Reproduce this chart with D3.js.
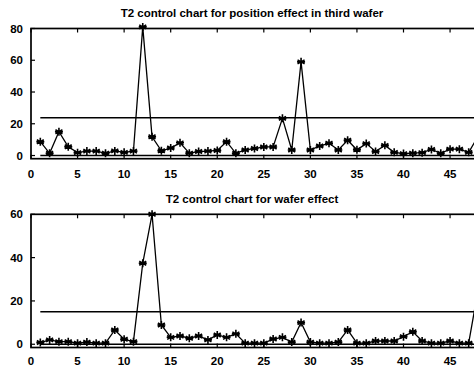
<!DOCTYPE html>
<html><head><meta charset="utf-8">
<script src="https://cdn.jsdelivr.net/npm/d3@7"></script>
<style>body{margin:0;background:#fff}svg{display:block}text{font-family:"Liberation Sans",Arial,sans-serif;font-weight:bold;fill:#000}</style>
</head><body><svg id="c" width="474" height="368"></svg>
<script>
const samples = d3.range(1, 49);
const title1 = "T2 control chart for position effect in third wafer";
const title2 = "T2 control chart for wafer effect";
const positionT2 = [8.7,1.4,15,5.5,1.8,2.8,2.8,1.4,2.9,2,2.8,81,11.8,3,4.7,8,1.5,2.5,2.8,3.2,8.7,1.4,3.5,4.4,5.4,5.4,23.4,3.5,59,3.5,6,7.7,3.5,9.6,3.6,7.5,2.5,6.4,2,1.2,1.5,1.8,3.8,1.4,4,4,2,12];
const waferT2 = [0.8,2,1.2,1.2,0.5,1,0.5,0.5,6.6,2.3,1.2,37.4,60,8.9,3.2,3.8,2.8,3.8,2,4.3,3.2,4.8,0.5,0.5,0.5,2.4,3.2,1,10,1,0.5,0.5,1,6.6,0.5,0.5,1.5,1.5,1.5,3.5,5.8,1.5,0.5,0.5,1.5,0.5,0.5,25];
const ucl1 = 23.8, ucl2 = 15.0, lcl = 0;
const xTicks = d3.range(0, 50, 5);
const yTicks1 = [0,20,40,60,80];
const yTicks2 = [0,20,40,60];

const svg = d3.select("#c");
const x = d3.scaleLinear().domain([0,48]).range([31,478]);

function panel(data, ucl, yDom, yRange, yTicks, title, titleY, labelY){
  const y = d3.scaleLinear().domain(yDom).range(yRange);
  const g = svg.append("g");
  const [x0,x1] = x.range(), [yb,yt] = yRange;
  g.append("rect").attr("x",x0).attr("y",yt).attr("width",x1-x0).attr("height",yb-yt)
    .attr("fill","none").attr("stroke","#000").attr("stroke-width",1.7);
  const tl = 4;
  xTicks.forEach(t=>{
    g.append("line").attr("x1",x(t)).attr("x2",x(t)).attr("y1",yb).attr("y2",yb-tl).attr("stroke","#000").attr("stroke-width",1.2);
    g.append("line").attr("x1",x(t)).attr("x2",x(t)).attr("y1",yt).attr("y2",yt+tl).attr("stroke","#000").attr("stroke-width",1.2);
    g.append("text").attr("x",x(t)).attr("y",labelY).attr("text-anchor","middle").attr("font-size",11.5).text(t);
  });
  yTicks.forEach(t=>{
    g.append("line").attr("x1",x0).attr("x2",x0+tl).attr("y1",y(t)).attr("y2",y(t)).attr("stroke","#000").attr("stroke-width",1.2);
    g.append("line").attr("x1",x1).attr("x2",x1-tl).attr("y1",y(t)).attr("y2",y(t)).attr("stroke","#000").attr("stroke-width",1.2);
    g.append("text").attr("x",23).attr("y",y(t)+4).attr("text-anchor","end").attr("font-size",11.5).text(t);
  });
  [ucl, lcl].forEach(v=>{
    g.append("line").attr("x1",x(1)).attr("x2",x(48)).attr("y1",y(v)).attr("y2",y(v)).attr("stroke","#000").attr("stroke-width",1.3);
  });
  const line = d3.line().x((d,i)=>x(samples[i])).y(d=>y(d));
  g.append("path").datum(data).attr("d",line).attr("fill","none").attr("stroke","#000").attr("stroke-width",1.3);
  const ast = "M0,-4V4M-3.5,-2L3.5,2M-3.5,2L3.5,-2M-4,0H4";
  g.selectAll("path.m").data(data).enter().append("path").attr("class","m")
    .attr("transform",(d,i)=>`translate(${x(samples[i])},${y(d)})`)
    .attr("d",ast).attr("stroke","#000").attr("stroke-width",1.6).attr("fill","none");
  g.append("text").attr("x",252).attr("y",titleY).attr("text-anchor","middle").attr("font-size",11.5).text(title);
}
panel(positionT2, ucl1, [-2,80], [158.7,28.5], yTicks1, title1, 17, 178);
panel(waferT2, ucl2, [-1.5,60], [347.5,214.3], yTicks2, title2, 203, 365);
</script></body></html>
